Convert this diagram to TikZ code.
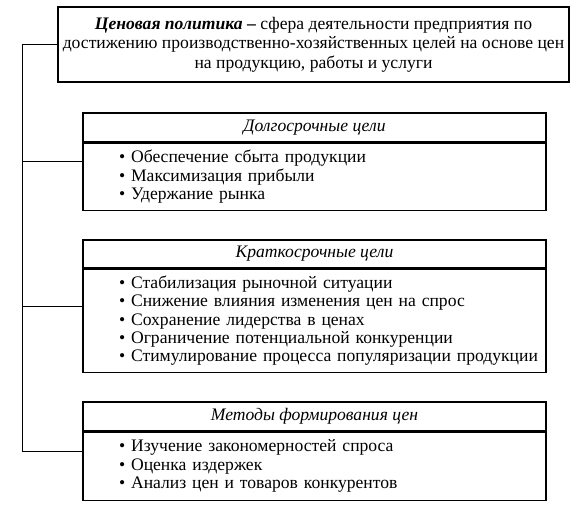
\documentclass[tikz,border=0pt]{standalone}
\usepackage{fontspec}
\setmainfont{Liberation Serif}
\usetikzlibrary{calc,fit}

\tikzset{
    box/.style={draw, line width=0.9pt, inner sep=0pt, minimum width=347.25pt},
    headbox/.style={box, minimum height=21.75pt, font=\fontsize{13.2}{14}\selectfont\itshape},
    listbox/.style={box, anchor=north, align=left, text width=345pt,
        execute at begin node={\leftskip=25.9pt\relax},
        font=\fontsize{13.2}{13.8}\selectfont},
    group/.style={inner sep=0pt},
}

\begin{document}
\begin{tikzpicture}[x=0.75pt,y=0.75pt,yscale=-1,xscale=1]
        \useasboundingbox (0,0) rectangle (576,512);
        % definition
        \node [draw, line width=1.1pt, minimum width=383.25pt, minimum height=56.25pt, align=center,
            font=\fontsize{13.2}{14.6}\selectfont] (policy) at (313.5,44.5)
            {\textbf{\textit{Ценовая политика} --} сфера деятельности предприятия по\\
             достижению производственно-хозяйственных целей на основе цен\\
             на продукцию, работы и услуги};
        % long-term goals
        \node [headbox] (longhead) at (314.5,127.5) {Долгосрочные цели};
        \node [listbox, minimum height=50.25pt] (longlist) at (longhead.south)
            {\textbullet\ Обеспечение сбыта продукции\\
             \textbullet\ Максимизация прибыли\\
             \textbullet\ Удержание рынка};
        \node [group, fit=(longhead)(longlist)] (longterm) {};
        % short-term goals
        \node [headbox, minimum height=21pt] (shorthead) at (314.5,254) {Краткосрочные цели};
        \node [listbox, minimum height=77.25pt] (shortlist) at (shorthead.south)
            {\textbullet\ Стабилизация рыночной ситуации\\
             \textbullet\ Снижение влияния изменения цен на спрос\\
             \textbullet\ Сохранение лидерства в ценах\\
             \textbullet\ Ограничение потенциальной конкуренции\\
             \textbullet\ Стимулирование процесса популяризации продукции};
        \node [group, fit=(shorthead)(shortlist)] (shortterm) {};
        % pricing methods
        \node [headbox] (methodhead) at (314.5,416.5) {Методы формирования цен};
        \node [listbox, minimum height=51pt] (methodlist) at (methodhead.south)
            {\textbullet\ Изучение закономерностей спроса\\
             \textbullet\ Оценка издержек\\
             \textbullet\ Анализ цен и товаров конкурентов};
        \node [group, fit=(methodhead)(methodlist)] (methods) {};
        % connectors
        \coordinate (spine) at ($(policy.west)+(-35,0)$);
        \draw [line width=0.9pt] (policy.west) -- (spine) |- (methods.west);
        \draw [line width=0.9pt] (spine |- longterm.west) -- (longterm.west);
        \draw [line width=0.9pt] (spine |- shortterm.west) -- (shortterm.west);
\end{tikzpicture}
\end{document}
